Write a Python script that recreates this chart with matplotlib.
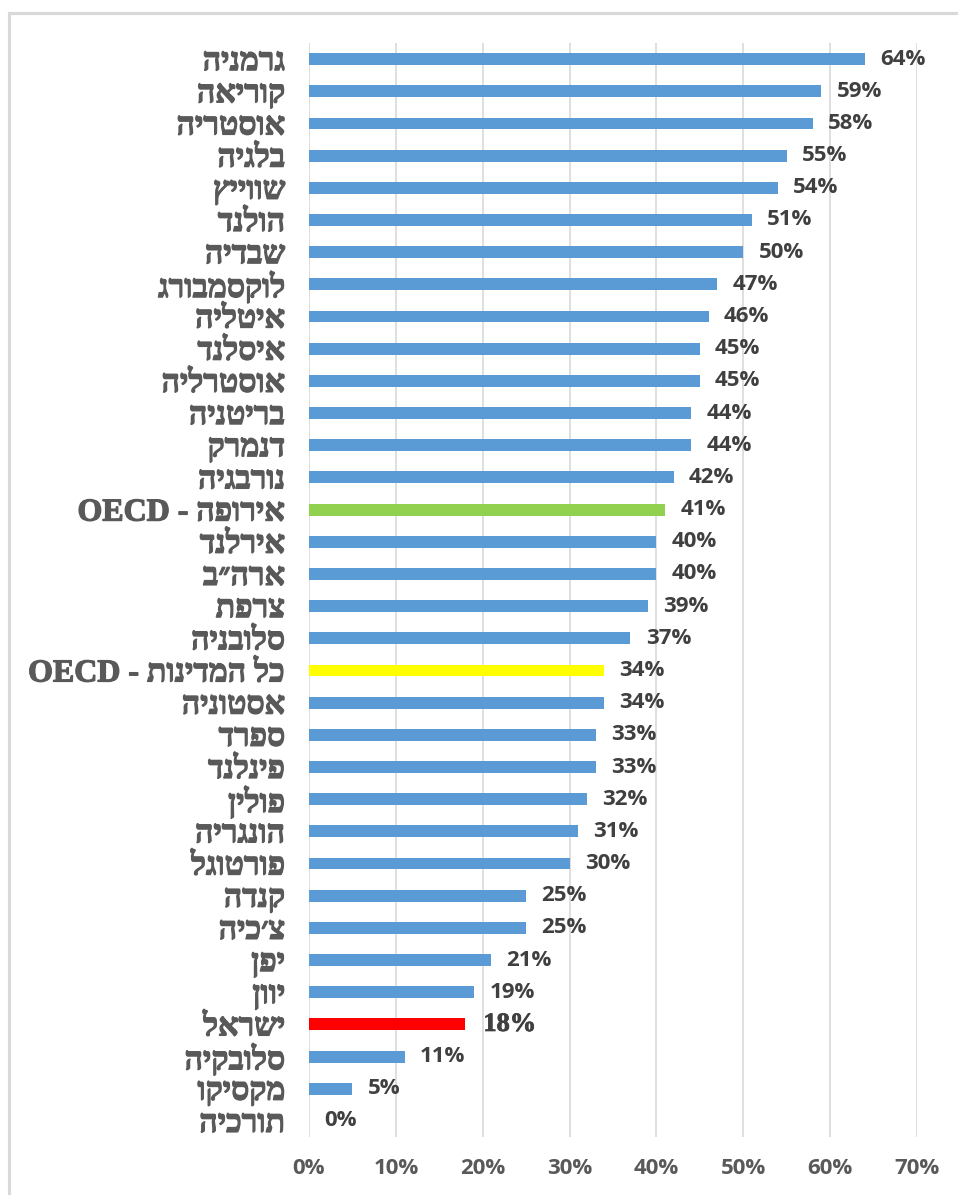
import re
import matplotlib
matplotlib.use("Agg")
import matplotlib.pyplot as plt
import matplotlib.patheffects as pe
from matplotlib.lines import Line2D

# data, top to bottom as in the chart
countries = [
    "גרמניה", "קוריאה", "אוסטריה", "בלגיה", "שווייץ", "הולנד", "שבדיה",
    "לוקסמבורג", "איטליה", "איסלנד", "אוסטרליה", "בריטניה", "דנמרק",
    "נורבגיה", "אירופה - OECD", "אירלנד", "ארה״ב", "צרפת", "סלובניה",
    "כל המדינות - OECD", "אסטוניה", "ספרד", "פינלנד", "פולין", "הונגריה",
    "פורטוגל", "קנדה", "צ׳כיה", "יפן", "יוון", "ישראל", "סלובקיה",
    "מקסיקו", "תורכיה",
]
values = [64, 59, 58, 55, 54, 51, 50, 47, 46, 45, 45, 44, 44, 42, 41, 40,
          40, 39, 37, 34, 34, 33, 33, 32, 31, 30, 25, 25, 21, 19, 18, 11, 5, 0]
highlight = {"אירופה - OECD": "#92D050", "כל המדינות - OECD": "#FFFF00",
             "ישראל": "#FF0000"}
xticks = [0, 10, 20, 30, 40, 50, 60, 70]

BLUE = "#5B9BD5"
GRID = "#D9D9D9"
LABEL = "#595959"
VALUE = "#404040"
SANS = ["Open Sans", "DejaVu Sans"]


def visual(s):
    # matplotlib has no bidi, so flip the string and put latin runs back
    return re.sub(r"[A-Za-z0-9]+", lambda m: m.group()[::-1], s[::-1])


fig = plt.figure(figsize=(9.58, 11.95), dpi=100)
ax = fig.add_axes([0.3225, 0.0485, 0.6347, 0.9155])

n = len(countries)
ypos = list(range(n))[::-1]
colors = [highlight.get(c, BLUE) for c in countries]
ax.barh(ypos, values, height=0.37, color=colors, zorder=3)

ax.set_xlim(0, 70)
ax.set_ylim(-0.5, n - 0.5)
ax.set_xticks(xticks)
ax.set_xticklabels([f"{t}%" for t in xticks], fontfamily=SANS,
                   fontweight="bold", fontsize=16, color=LABEL)
ax.tick_params(axis="x", length=0, pad=15)
ax.set_yticks(ypos)
ax.set_yticklabels([visual(c) for c in countries],
                   fontfamily=["Liberation Serif", "DejaVu Serif"],
                   fontweight="bold", fontsize=23, color=LABEL)
ax.tick_params(axis="y", length=0, pad=17)
for lab in ax.get_yticklabels():
    lab.set_path_effects([pe.withStroke(linewidth=0.9, foreground=LABEL)])
ax.grid(axis="x", color=GRID, linewidth=1.2, zorder=0)
for sp in ax.spines.values():
    sp.set_visible(False)

for y, v, c in zip(ypos, values, countries):
    if c == "ישראל":
        t = ax.annotate(f"{v}%", (v, y), xytext=(13, 0), textcoords="offset points",
                        va="center", ha="left", fontsize=19, fontweight="bold",
                        fontfamily="Liberation Serif", color=VALUE)
        t.set_path_effects([pe.withStroke(linewidth=0.6, foreground=VALUE)])
    else:
        ax.annotate(f"{v}%", (v, y), xytext=(11, 0), textcoords="offset points",
                    va="center", ha="left", fontsize=16, fontweight="bold",
                    fontfamily=SANS, color=VALUE)

# light frame on top and left edge
fig.add_artist(Line2D([0.009, 1.0], [0.9895, 0.9895], color=GRID, linewidth=2.2))
fig.add_artist(Line2D([0.0095, 0.0095], [0.0, 0.9895], color=GRID, linewidth=2.2))

fig.savefig("out.png", dpi=100)
